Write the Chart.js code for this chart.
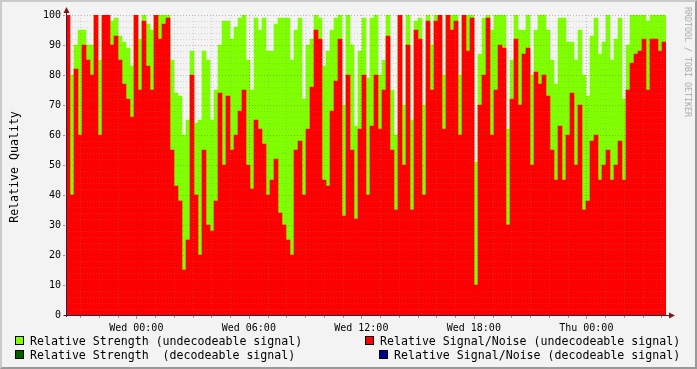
<!DOCTYPE html>
<html>
<head>
<meta charset="utf-8">
<script src="https://cdn.jsdelivr.net/npm/chart.js@4.4.1/dist/chart.umd.min.js"></script>
<style>
  html, body { margin: 0; padding: 0; background: #f3f3f3; }
  #wrap {
    position: relative; width: 697px; height: 369px; box-sizing: border-box;
    border-top: 2px solid #cbcbcb; border-left: 2px solid #cbcbcb;
    border-right: 2px solid #999; border-bottom: 2px solid #999;
    background: #f3f3f3; overflow: hidden;
    font-family: "DejaVu Sans Mono", monospace; color: #000;
  }
  #chart { position: absolute; left: -2px; top: -2px; }
  .txt { position: absolute; white-space: pre; font-size: 11.6px; line-height: 14px; }
  .sw { position: absolute; width: 7px; height: 7px; border: 1px solid #000; }
  #ytitle { position: absolute; left: 12px; top: 165px; transform: translate(-50%, -50%) rotate(-90deg); white-space: pre; font-size: 11.6px; }
  #mark { position: absolute; left: 686px; top: 60px; transform: translate(-50%, -50%) rotate(90deg); white-space: pre; font-size: 8.3px; color: #aaa; }
</style>
</head>
<body>
<div id="wrap">
  <canvas id="chart" width="697" height="369"></canvas>
  <div id="ytitle">Relative Quality</div>
  <div id="mark">RRDTOOL / TOBI OETIKER</div>

  <div class="sw" style="left:13px; top:334px; background:#80ff00;"></div>
  <div class="txt" style="left:28px; top:332px;">Relative Strength (undecodeable signal)</div>
  <div class="sw" style="left:363px; top:334px; background:#ff0000;"></div>
  <div class="txt" style="left:378px; top:332px;">Relative Signal/Noise (undecodeable signal)</div>

  <div class="sw" style="left:13px; top:348px; background:#006000;"></div>
  <div class="txt" style="left:28px; top:346px;">Relative Strength  (decodeable signal)</div>
  <div class="sw" style="left:377px; top:348px; background:#000090;"></div>
  <div class="txt" style="left:392px; top:346px;">Relative Signal/Noise (decodeable signal)</div>
</div>

<script>
// time axis: hours relative to Wed 00:00, one column every 12.8 minutes
const startHour = -3.75;
const endHour = 28.25;
const tickHours = [0, 6, 12, 18, 24];
const tickLabels = ['Wed 00:00', 'Wed 06:00', 'Wed 12:00', 'Wed 18:00', 'Thu 00:00'];

// Relative Signal/Noise (undecodeable signal)
const signalNoise = [
  100, 40, 82, 60, 90, 85, 80, 100, 60, 100, 100, 90, 93, 85, 77, 72, 66, 100, 75, 98, 83, 75, 100, 92, 97, 99, 55, 43, 38, 15,
  25, 80, 40, 20, 55, 30, 28, 38, 74, 50, 73, 55, 60, 68, 75, 50, 42, 65, 62, 57, 40, 45, 52, 34, 30, 25, 20, 55, 58, 40,
  62, 76, 95, 92, 45, 43, 68, 78, 92, 33, 80, 55, 32, 62, 80, 40, 63, 80, 62, 75, 93, 55, 35, 100, 50, 90, 35, 95, 92, 40,
  98, 75, 98, 100, 62, 100, 95, 98, 60, 100, 88, 99, 10, 70, 80, 99, 60, 75, 90, 89, 30, 72, 92, 70, 87, 89, 50, 81, 77, 80,
  73, 55, 45, 63, 45, 60, 74, 50, 70, 35, 38, 58, 60, 45, 50, 55, 45, 50, 58, 45, 75, 84, 87, 88, 92, 75, 92, 92, 88, 91
];

// Relative Strength (undecodeable signal)
const strength = [
  94, 80, 90, 95, 95, 90, 90, 100, 85, 100, 100, 98, 99, 93, 91, 89, 83, 100, 92, 100, 97, 95, 100, 100, 100, 100, 85, 74, 73, 60,
  65, 88, 64, 65, 88, 85, 65, 75, 90, 98, 98, 92, 96, 99, 100, 85, 75, 99, 95, 99, 88, 88, 97, 99, 99, 99, 85, 95, 99, 72,
  90, 92, 100, 99, 83, 88, 95, 99, 100, 70, 100, 90, 63, 88, 99, 79, 99, 100, 80, 85, 100, 75, 60, 100, 70, 100, 65, 98, 99, 70,
  100, 90, 100, 100, 80, 100, 100, 100, 80, 100, 100, 100, 51, 87, 99, 100, 95, 100, 100, 100, 62, 85, 100, 95, 95, 100, 80, 95, 100, 100,
  95, 85, 77, 99, 99, 91, 91, 85, 95, 80, 73, 93, 99, 87, 91, 100, 85, 92, 99, 72, 90, 100, 100, 100, 100, 98, 100, 100, 100, 100
];

const step = (endHour - startHour) / signalNoise.length;
const toPoints = arr => arr.map((v, i) => ({ x: startHour + step * (i + 0.5), y: v }));

// rrdtool style grid, drawn over the areas
const rrdGrid = {
    id: 'rrdGrid',
    afterDatasetsDraw(chart) {
        const { ctx, chartArea: a, scales: { x, y } } = chart;
        ctx.save();
        ctx.lineWidth = 1;
        ctx.setLineDash([1, 2]);

        // horizontal lines
        for (let v = 0; v <= 100; v += 2) {
            const py = Math.round(y.getPixelForValue(v)) + 0.5;
            ctx.strokeStyle = v % 10 === 0 ? 'rgba(130,30,30,0.30)' : 'rgba(140,140,140,0.30)';
            ctx.beginPath();
            ctx.moveTo(a.left, py);
            ctx.lineTo(a.right, py);
            ctx.stroke();
        }

        // vertical lines, one per hour
        for (let h = Math.ceil(startHour); h <= endHour; h++) {
            const px = Math.round(x.getPixelForValue(h)) + 0.5;
            ctx.strokeStyle = h % 6 === 0 ? 'rgba(130,30,30,0.30)' : 'rgba(140,140,140,0.30)';
            ctx.beginPath();
            ctx.moveTo(px, a.top);
            ctx.lineTo(px, a.bottom);
            ctx.stroke();
        }

        ctx.setLineDash([]);

        // tick marks
        ctx.strokeStyle = 'rgba(130,30,30,0.5)';
        for (let h = Math.ceil(startHour); h <= endHour; h++) {
            const px = Math.round(x.getPixelForValue(h)) + 0.5;
            ctx.beginPath();
            ctx.moveTo(px, a.bottom + 1);
            ctx.lineTo(px, a.bottom + (h % 6 === 0 ? 4 : 3));
            ctx.stroke();
        }
        for (let v = 0; v <= 100; v += 10) {
            const py = Math.round(y.getPixelForValue(v)) + 0.5;
            ctx.beginPath();
            ctx.moveTo(a.left - 3, py);
            ctx.lineTo(a.left - 1, py);
            ctx.stroke();
        }

        // axes
        ctx.strokeStyle = '#1f2a44';
        ctx.beginPath();
        ctx.moveTo(a.left - 2, a.bottom + 0.5);
        ctx.lineTo(a.right + 4, a.bottom + 0.5);
        ctx.moveTo(a.left + 0.5, a.bottom + 2);
        ctx.lineTo(a.left + 0.5, a.top - 4);
        ctx.stroke();

        // arrows
        ctx.fillStyle = '#7f1616';
        ctx.beginPath();
        ctx.moveTo(a.left + 0.5, a.top - 8);
        ctx.lineTo(a.left - 2.5, a.top - 2);
        ctx.lineTo(a.left + 3.5, a.top - 2);
        ctx.closePath();
        ctx.fill();
        ctx.beginPath();
        ctx.moveTo(a.right + 9, a.bottom + 0.5);
        ctx.lineTo(a.right + 3, a.bottom - 2.5);
        ctx.lineTo(a.right + 3, a.bottom + 3.5);
        ctx.closePath();
        ctx.fill();

        ctx.restore();
    }
};

new Chart(document.getElementById('chart').getContext('2d'), {
    type: 'bar',
    data: {
        datasets: [
            {
                label: 'Relative Signal/Noise (undecodeable signal)',
                data: toPoints(signalNoise),
                backgroundColor: '#ff0000',
                borderWidth: 0
            },
            {
                label: 'Relative Strength (undecodeable signal)',
                data: toPoints(strength),
                backgroundColor: '#80ff00',
                borderWidth: 0
            }
        ]
    },
    options: {
        responsive: false,
        animation: false,
        events: [],
        grouped: false,
        barPercentage: 1,
        categoryPercentage: 1,
        layout: {
            padding: { left: 0, top: 15, right: 31, bottom: 0 }
        },
        plugins: {
            legend: { display: false },
            tooltip: { enabled: false }
        },
        scales: {
            x: {
                type: 'linear',
                offset: false,
                min: startHour,
                max: endHour,
                grid: { display: false, drawTicks: false, offset: false },
                border: { display: false },
                afterBuildTicks: scale => {
                    scale.ticks = tickHours.map(h => ({ value: h }));
                },
                afterFit: scale => { scale.height = 54; },
                ticks: {
                    padding: 7,
                    maxRotation: 0,
                    autoSkip: false,
                    color: '#000',
                    font: { family: 'DejaVu Sans Mono', size: 10 },
                    callback: value => tickLabels[tickHours.indexOf(value)]
                }
            },
            y: {
                min: 0,
                max: 100,
                grid: { display: false, drawTicks: false },
                border: { display: false },
                afterFit: scale => { scale.width = 66; },
                ticks: {
                    stepSize: 10,
                    padding: 5,
                    color: '#000',
                    font: { family: 'DejaVu Sans Mono', size: 10 }
                }
            }
        }
    },
    plugins: [rrdGrid]
});
</script>
</body>
</html>
